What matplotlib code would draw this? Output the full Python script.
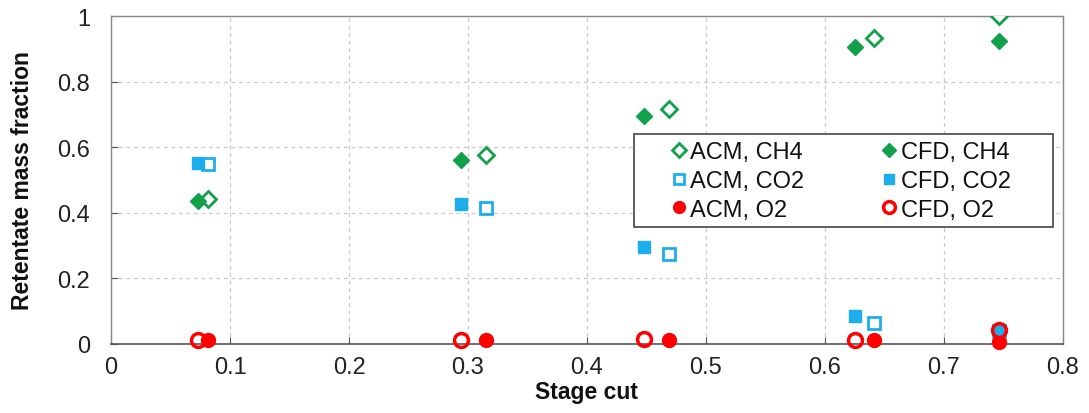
import matplotlib
matplotlib.use("Agg")
import matplotlib.pyplot as plt
from matplotlib.patches import Rectangle

# Data
acm_x = [0.0815, 0.315, 0.469, 0.641, 0.746]
cfd_x = [0.073, 0.294, 0.448, 0.625, 0.746]

acm_ch4 = [0.443, 0.577, 0.716, 0.932, 1.0]
cfd_ch4 = [0.437, 0.562, 0.694, 0.906, 0.923]
acm_co2 = [0.548, 0.415, 0.274, 0.063, 0.040]
cfd_co2 = [0.552, 0.427, 0.296, 0.086, 0.042]
acm_o2 = [0.012, 0.012, 0.012, 0.012, 0.005]
cfd_o2 = [0.012, 0.012, 0.015, 0.013, 0.043]

xticks = [0, 0.1, 0.2, 0.3, 0.4, 0.5, 0.6, 0.7, 0.8]
xtick_labels = ["0", "0.1", "0.2", "0.3", "0.4", "0.5", "0.6", "0.7", "0.8"]
yticks = [0, 0.2, 0.4, 0.6, 0.8, 1.0]
ytick_labels = ["0", "0.2", "0.4", "0.6", "0.8", "1"]

GREEN = "#13A04A"
BLUE = "#1CAEEC"
RED = "#FF0000"

plt.rcParams['font.family'] = ['Liberation Sans', 'DejaVu Sans']

fig = plt.figure(figsize=(10.89, 4.14), dpi=100)
ax = fig.add_axes([0.102, 0.1667, 0.874, 0.792])

ax.plot(acm_x, acm_ch4, linestyle='none', marker='D', ms=8, mfc='white', mec=GREEN, mew=2, label='ACM, CH4', zorder=3)
ax.plot(acm_x, acm_co2, linestyle='none', marker='s', ms=8.5, mfc='white', mec=BLUE, mew=2, label='ACM, CO2', zorder=3)
ax.plot(acm_x, acm_o2, linestyle='none', marker='o', ms=10, mfc=RED, mec=RED, mew=1, label='ACM, O2', zorder=3, clip_on=False)
ax.plot(cfd_x, cfd_ch4, linestyle='none', marker='D', ms=8, mfc=GREEN, mec=GREEN, mew=1, label='CFD, CH4', zorder=3)
ax.plot(cfd_x, cfd_co2, linestyle='none', marker='s', ms=9, mfc=BLUE, mec=BLUE, mew=1, label='CFD, CO2', zorder=3)
ax.plot(cfd_x, cfd_o2, linestyle='none', marker='o', ms=10, mfc='none', mec=RED, mew=2.5, label='CFD, O2', zorder=4, clip_on=False)

ax.set_xlim(0, 0.8)
ax.set_ylim(0, 1)
ax.set_xticks(xticks)
ax.set_xticklabels(xtick_labels)
ax.set_yticks(yticks)
ax.set_yticklabels(ytick_labels)
ax.tick_params(axis='both', direction='in', length=5, labelsize=17, colors='#555555', labelcolor='#222222')
ax.tick_params(axis='x', pad=9)
ax.tick_params(axis='y', pad=15)

ax.grid(True, linestyle=(0, (3, 3)), color='#c8c8c8', linewidth=0.9)
ax.set_axisbelow(True)
for s in ['top', 'right', 'left']:
    ax.spines[s].set_color('#888888')
    ax.spines[s].set_linewidth(1.0)
ax.spines['bottom'].set_color('#555555')
ax.spines['bottom'].set_linewidth(1.2)

ax.set_xlabel('Stage cut', fontsize=16.5, fontweight='bold', va='center', color='#111111')
ax.xaxis.set_label_coords(0.5, -0.146)
ax.set_ylabel('Retentate mass fraction', fontsize=16.5, fontweight='bold', va='center', color='#111111')
ax.yaxis.set_label_coords(-0.0935, 0.5)

# legend frame
frame = Rectangle((0.5494, 0.357), 0.4401, 0.283, transform=ax.transAxes,
                  facecolor='white', edgecolor='#444444', linewidth=1.2, zorder=5)
ax.add_patch(frame)

leg = ax.legend(ncol=2, loc='center', bbox_to_anchor=(0.7673, 0.497),
                fontsize=17, frameon=False, markerscale=0.85,
                handletextpad=0.2, handlelength=0.55, columnspacing=3.35,
                borderpad=0.0, labelspacing=0.28, borderaxespad=0)
leg.set_zorder(6)
for t in leg.get_texts():
    t.set_color('#111111')

fig.savefig('out.png', dpi=100)
